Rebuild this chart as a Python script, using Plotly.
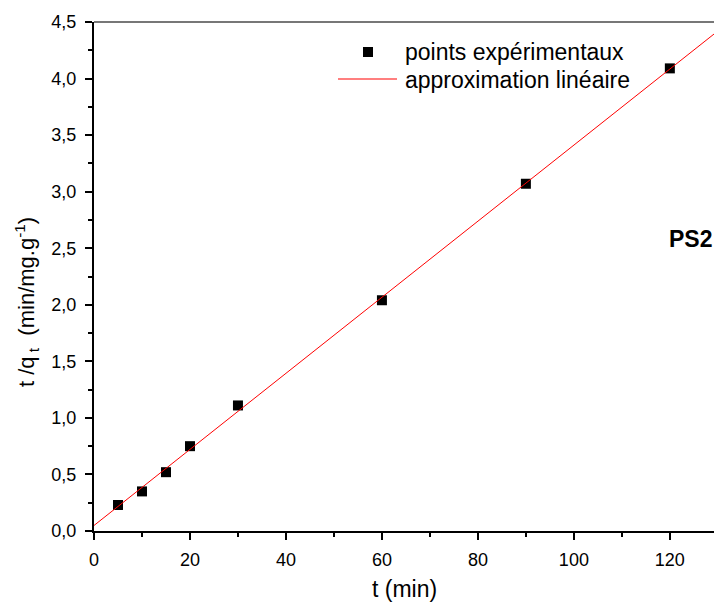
import numpy as np
import plotly.graph_objects as go

# Pseudo-second-order kinetics (PS2): t/qt versus contact time
t_min = [5, 10, 15, 20, 30, 60, 90, 120]
t_over_qt = [0.23, 0.35, 0.52, 0.75, 1.11, 2.04, 3.07, 4.09]

# Least-squares linear fit
slope, intercept = np.polyfit(t_min, t_over_qt, 1)
x_max = 129.2
fit_x = [0, x_max]
fit_y = [intercept + slope * v for v in fit_x]

font = "Liberation Sans, Arial, sans-serif"

# Plot-area geometry in pixels (used to place legend and titles)
W, H = 714, 603
L, R, T, B = 94, 0, 22, 72
pw, ph = W - L - R, H - T - B


def px(xpix):
    return (xpix - L) / pw


def py(ypix):
    return (H - B - ypix) / ph


fig = go.Figure()
fig.add_trace(go.Scatter(
    x=t_min, y=t_over_qt, mode="markers", name="points expérimentaux",
    marker=dict(symbol="square", size=10, color="black"), showlegend=False,
))
fig.add_trace(go.Scatter(
    x=fit_x, y=fit_y, mode="lines", name="approximation linéaire",
    line=dict(color="red", width=1), showlegend=False,
))

fig.update_layout(
    width=W, height=H,
    margin=dict(l=L, r=R, t=T, b=B),
    paper_bgcolor="white", plot_bgcolor="white",
    separators=",.",
    font=dict(family=font, size=18, color="black"),
    xaxis=dict(
        range=[0, x_max], showline=True, linecolor="black", linewidth=2,
        ticks="outside", ticklen=7, tickwidth=2, tickcolor="black",
        dtick=20, tick0=0, showgrid=False, zeroline=False,
        minor=dict(ticks="outside", ticklen=4, tickwidth=2, dtick=10, tickcolor="black"),
        tickfont=dict(size=18), ticklabelstandoff=4,
    ),
    yaxis=dict(
        range=[0, 4.5], showline=True, linecolor="black", linewidth=2,
        ticks="outside", ticklen=7, tickwidth=2, tickcolor="black",
        dtick=0.5, tick0=0, tickformat=".1f", showgrid=False, zeroline=False,
        minor=dict(ticks="outside", ticklen=4, tickwidth=2, dtick=0.25, tickcolor="black"),
        tickfont=dict(size=18), ticklabelstandoff=5,
    ),
)

# Grey frame line along the top of the plotting area
fig.add_shape(type="line", xref="paper", yref="paper", x0=0, x1=1, y0=1, y1=1,
              line=dict(color="#777777", width=2))

# Axis titles
fig.add_annotation(text="t (min)", xref="paper", yref="paper", x=0.5, y=py(589),
                   xanchor="center", yanchor="middle", showarrow=False,
                   font=dict(size=23, family=font))
fig.add_annotation(text="t /q<sub> t</sub>  (min/mg.g<sup>-1</sup>)",
                   xref="paper", yref="paper", x=px(27), y=py(302),
                   xanchor="center", yanchor="middle", textangle=-90, showarrow=False,
                   font=dict(size=22, family=font))

# Legend
fig.add_shape(type="rect", xref="paper", yref="paper",
              x0=px(363), x1=px(373), y0=py(57), y1=py(47),
              fillcolor="black", line=dict(width=0))
fig.add_shape(type="line", xref="paper", yref="paper",
              x0=px(338), x1=px(397), y0=py(79), y1=py(79),
              line=dict(color="#ff5555", width=1.5))
fig.add_annotation(text="points expérimentaux", xref="paper", yref="paper",
                   x=px(403), y=py(52), xanchor="left", yanchor="middle",
                   showarrow=False, font=dict(size=23, family=font))
fig.add_annotation(text="approximation linéaire", xref="paper", yref="paper",
                   x=px(403), y=py(80), xanchor="left", yanchor="middle",
                   showarrow=False, font=dict(size=23, family=font))

fig.add_annotation(text="<b>PS2</b>", xref="paper", yref="paper", x=1.0, y=py(239),
                   xanchor="right", yanchor="middle", showarrow=False,
                   font=dict(size=23, family=font))

fig.write_html("out.html")
